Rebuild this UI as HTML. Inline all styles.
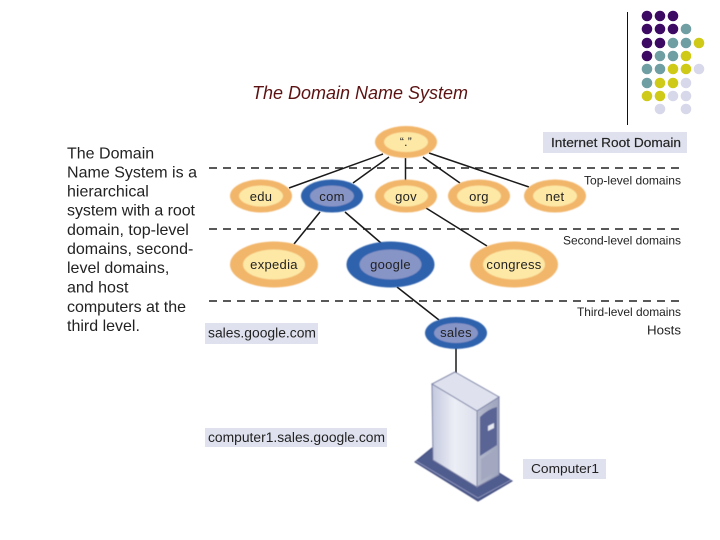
<!DOCTYPE html>
<html><head><meta charset="utf-8"><style>
html,body{margin:0;padding:0;background:#fff}
svg{display:block}
text{font-family:"Liberation Sans",sans-serif;fill:#222}
</style></head><body>
<svg width="720" height="540" viewBox="0 0 720 540" xmlns="http://www.w3.org/2000/svg">
<defs>
<linearGradient id="lf" x1="0" y1="0" x2="1" y2="0"><stop offset="0" stop-color="#c3c8de"/><stop offset=".5" stop-color="#eceef6"/><stop offset="1" stop-color="#dcdfec"/></linearGradient>
<linearGradient id="rf" x1="0" y1="0" x2="1" y2="0"><stop offset="0" stop-color="#b5bace"/><stop offset="1" stop-color="#9ea4bc"/></linearGradient>
<filter id="b" x="-10%" y="-10%" width="120%" height="120%"><feGaussianBlur stdDeviation="0.5"/></filter>
</defs>
<rect width="720" height="540" fill="#fff"/>
<line x1="627.5" y1="12" x2="627.5" y2="125" stroke="#111" stroke-width="1"/>
<g fill="#3d0a63">
<circle cx="647" cy="16" r="5.3"/><circle cx="660" cy="16" r="5.3"/><circle cx="673" cy="16" r="5.3"/>
<circle cx="647" cy="29" r="5.3"/><circle cx="660" cy="29" r="5.3"/><circle cx="673" cy="29" r="5.3"/>
<circle cx="647" cy="43" r="5.3"/><circle cx="660" cy="43" r="5.3"/>
<circle cx="647" cy="56" r="5.3"/>
</g>
<g fill="#6f9ea3">
<circle cx="686" cy="29" r="5.3"/>
<circle cx="673" cy="43" r="5.3"/><circle cx="686" cy="43" r="5.3"/>
<circle cx="660" cy="56" r="5.3"/><circle cx="673" cy="56" r="5.3"/>
<circle cx="647" cy="69" r="5.3"/><circle cx="660" cy="69" r="5.3"/>
<circle cx="647" cy="83" r="5.3"/>
</g>
<g fill="#cfca17">
<circle cx="699" cy="43" r="5.3"/>
<circle cx="686" cy="56" r="5.3"/>
<circle cx="673" cy="69" r="5.3"/><circle cx="686" cy="69" r="5.3"/>
<circle cx="660" cy="83" r="5.3"/><circle cx="673" cy="83" r="5.3"/>
<circle cx="647" cy="96" r="5.3"/><circle cx="660" cy="96" r="5.3"/>
</g>
<g fill="#d7d8ea">
<circle cx="699" cy="69" r="5.3"/>
<circle cx="686" cy="83" r="5.3"/>
<circle cx="673" cy="96" r="5.3"/><circle cx="686" cy="96" r="5.3"/>
<circle cx="660" cy="109" r="5.3"/><circle cx="686" cy="109" r="5.3"/>
</g>

<text x="252" y="99" font-size="18" font-style="italic" textLength="216" lengthAdjust="spacingAndGlyphs" style="fill:#5c1212">The Domain Name System</text>

<g font-size="16" style="fill:#333">
<text x="67" y="158.5">The Domain</text>
<text x="67" y="177.5" textLength="130">Name System is a</text>
<text x="67" y="196.5">hierarchical</text>
<text x="67" y="215.5" textLength="128">system with a root</text>
<text x="67" y="235">domain, top-level</text>
<text x="67" y="254">domains, second-</text>
<text x="67" y="273">level domains,</text>
<text x="67" y="292.5">and host</text>
<text x="67" y="312" textLength="119">computers at the</text>
<text x="67" y="331">third level.</text>
</g>

<g stroke="#222" stroke-width="1.5" stroke-dasharray="8 6" fill="none">
<line x1="209" y1="168" x2="682" y2="168"/>
<line x1="209" y1="229" x2="682" y2="229"/>
<line x1="209" y1="301" x2="682" y2="301"/>
</g>

<g stroke="#1a1a1a" stroke-width="1.5" fill="none">
<line x1="383" y1="154" x2="289" y2="188"/>
<line x1="389" y1="157" x2="353" y2="183"/>
<line x1="405.5" y1="158" x2="405.5" y2="181"/>
<line x1="423" y1="157" x2="460" y2="183"/>
<line x1="429" y1="153" x2="529" y2="187"/>
<line x1="320" y1="212" x2="294" y2="244"/>
<line x1="345" y1="212" x2="381" y2="243"/>
<line x1="426" y1="208" x2="487" y2="246"/>
<line x1="397" y1="287" x2="439" y2="320"/>
<line x1="456" y1="348" x2="456" y2="373"/>
</g>

<g filter="url(#b)">
<ellipse cx="406" cy="142" rx="31" ry="16" fill="#f2b66b"/><ellipse cx="406" cy="142" rx="22" ry="10" fill="#fde8a6"/>
<ellipse cx="261" cy="196" rx="31" ry="16.5" fill="#f2b66b"/><ellipse cx="261" cy="196" rx="22" ry="10.5" fill="#fde8a6"/>
<ellipse cx="332" cy="196" rx="31" ry="16.5" fill="#2f62ad"/><ellipse cx="332" cy="196" rx="22" ry="10.5" fill="#8794c6"/>
<ellipse cx="406" cy="196" rx="31" ry="16.5" fill="#f2b66b"/><ellipse cx="406" cy="196" rx="22" ry="10.5" fill="#fde8a6"/>
<ellipse cx="479" cy="196" rx="31" ry="16.5" fill="#f2b66b"/><ellipse cx="479" cy="196" rx="22" ry="10.5" fill="#fde8a6"/>
<ellipse cx="555" cy="196" rx="31" ry="16.5" fill="#f2b66b"/><ellipse cx="555" cy="196" rx="22" ry="10.5" fill="#fde8a6"/>
<ellipse cx="274" cy="264.5" rx="44" ry="23" fill="#f2b66b"/><ellipse cx="274" cy="264.5" rx="31" ry="15" fill="#fde8a6"/>
<ellipse cx="390.5" cy="264.5" rx="44" ry="23" fill="#2f62ad"/><ellipse cx="390.5" cy="264.5" rx="31" ry="15" fill="#8794c6"/>
<ellipse cx="514" cy="264.5" rx="44" ry="23" fill="#f2b66b"/><ellipse cx="514" cy="264.5" rx="31" ry="15" fill="#fde8a6"/>
<ellipse cx="456" cy="333" rx="31" ry="16" fill="#2f62ad"/><ellipse cx="456" cy="333" rx="22" ry="10" fill="#8794c6"/>
</g>

<g font-size="13" text-anchor="middle" style="letter-spacing:.3px">
<text x="406" y="146" font-size="12">“.”</text>
<text x="261" y="201">edu</text>
<text x="332" y="201">com</text>
<text x="406" y="201">gov</text>
<text x="479" y="201">org</text>
<text x="555" y="201">net</text>
<text x="274" y="269">expedia</text>
<text x="390.5" y="269">google</text>
<text x="514" y="269">congress</text>
<text x="456" y="337">sales</text>
</g>

<rect x="543" y="132" width="144" height="21" fill="#dfe2ee"/>
<rect x="205" y="323" width="113" height="21" fill="#dfe2ee"/>
<rect x="205" y="428" width="182" height="19" fill="#dfe2ee"/>
<rect x="523" y="459" width="83" height="20" fill="#dfe2ee"/>

<g style="fill:#333">
<text x="551" y="147" font-size="13" textLength="130" lengthAdjust="spacingAndGlyphs" stroke="#333" stroke-width=".2">Internet Root Domain</text>
<text x="584" y="184.5" font-size="12" textLength="97" lengthAdjust="spacingAndGlyphs">Top-level domains</text>
<text x="563" y="244.5" font-size="12" textLength="118" lengthAdjust="spacingAndGlyphs">Second-level domains</text>
<text x="577" y="316" font-size="12" textLength="104" lengthAdjust="spacingAndGlyphs">Third-level domains</text>
<text x="647" y="334.5" font-size="13" textLength="34" lengthAdjust="spacingAndGlyphs">Hosts</text>
<text x="208" y="337.5" font-size="13.5" textLength="108" lengthAdjust="spacingAndGlyphs">sales.google.com</text>
<text x="208" y="442" font-size="13.5" textLength="177" lengthAdjust="spacingAndGlyphs">computer1.sales.google.com</text>
<text x="531" y="473" font-size="13" textLength="68" lengthAdjust="spacingAndGlyphs">Computer1</text>
</g>

<g filter="url(#b)">
<polygon points="432,448 415,462 478,501 512,481 499,473" fill="#4f5b8e" stroke="#3f4a7c" stroke-width="1"/>
<polyline points="416,461 478,498 511,480" fill="none" stroke="#8f97bb" stroke-width="0.8"/>
<polygon points="455,372 499,397 477,411 432,384" fill="#dfe2ee" stroke="#7c82a6" stroke-width="1"/>
<polygon points="432,384 477,411 477,487 433,460" fill="url(#lf)" stroke="#7c82a6" stroke-width="1"/>
<polygon points="477,411 499,397 499,475 477,487" fill="url(#rf)" stroke="#7c82a6" stroke-width="1"/>
<path d="M480,417 Q488,409 497,407 L497,445 L480,456 Z" fill="#5a6596"/>
<polygon points="488,426 494,423 494,428 488,431" fill="#e6e8f2"/>
<polygon points="481,459 497,449 497,471 481,481" fill="#a3a8c0"/>
</g>
</svg>
</body></html>
